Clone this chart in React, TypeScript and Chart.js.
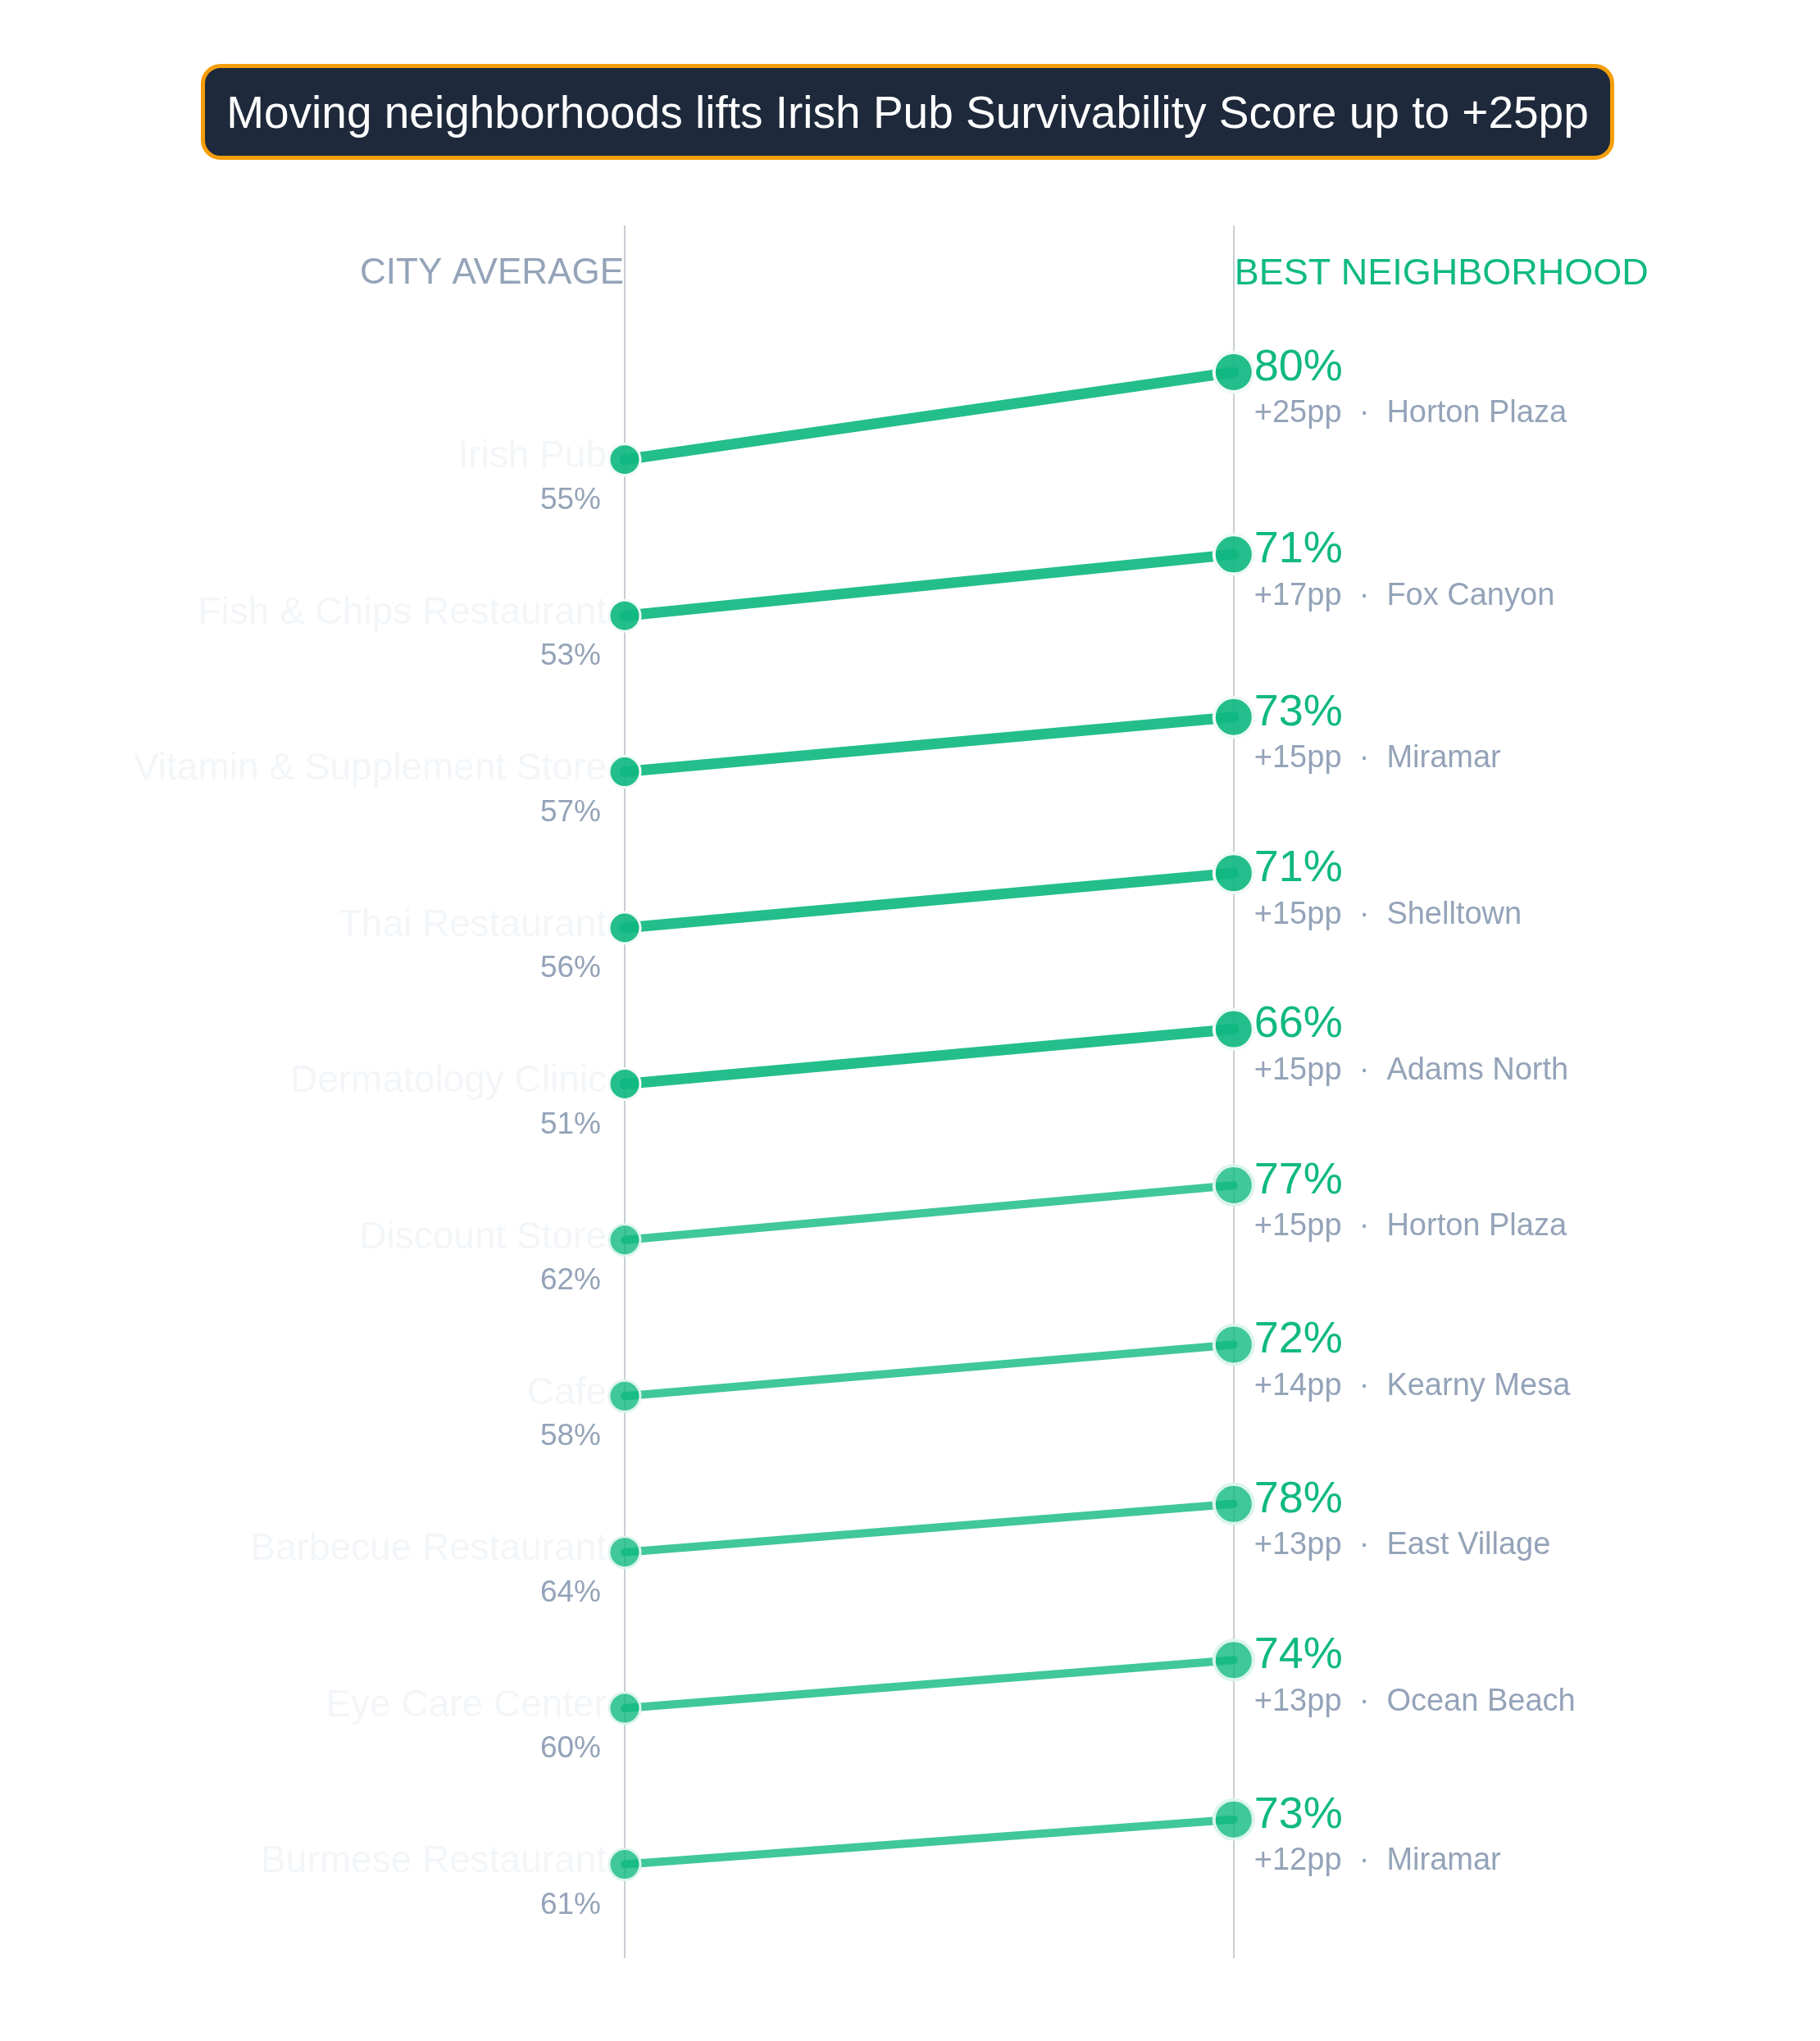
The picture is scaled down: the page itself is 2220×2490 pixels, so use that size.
import React, { useRef, useEffect } from 'react';
import { Chart, ChartConfiguration, Plugin, registerables } from 'chart.js';

Chart.register(...registerables);

const FONT = '"Liberation Sans", Arial, Helvetica, sans-serif';
const GREEN = '#10b981';
const GRAY = '#94a3b8';

const categories = [
  'Irish Pub',
  'Fish & Chips Restaurant',
  'Vitamin & Supplement Store',
  'Thai Restaurant',
  'Dermatology Clinic',
  'Discount Store',
  'Cafe',
  'Barbecue Restaurant',
  'Eye Care Center',
  'Burmese Restaurant',
];
const cityAverage = [55, 53, 57, 56, 51, 62, 58, 64, 60, 61];
const bestScore = [80, 71, 73, 71, 66, 77, 72, 78, 74, 73];
const liftPp = [25, 17, 15, 15, 15, 15, 14, 13, 13, 12];
const bestNeighborhood = [
  'Horton Plaza',
  'Fox Canyon',
  'Miramar',
  'Shelltown',
  'Adams North',
  'Horton Plaza',
  'Kearny Mesa',
  'East Village',
  'Ocean Beach',
  'Miramar',
];

const TITLE = 'Moving neighborhoods lifts Irish Pub Survivability Score up to +25pp';
const HIGHLIGHT = 5; // top rows drawn stronger

// layout in canvas px
const X_LEFT = 753;
const X_RIGHT = 1515;
const ROW_TOP = 545;
const ROW_GAP = 194.8;

// right end rises with the lift (in row units)
const riseFor = (lift: number) => (7 + 4 * lift) / 190.9;

const decor: Plugin<'line'> = {
  id: 'slopeDecor',
  beforeDatasetsDraw(chart) {
    const { ctx } = chart;
    const xs = chart.scales.x;
    const ys = chart.scales.y;
    ctx.save();
    ctx.strokeStyle = '#c9cdd4';
    ctx.lineWidth = 2;
    [0, 1].forEach((v) => {
      const x = Math.round(xs.getPixelForValue(v));
      ctx.beginPath();
      ctx.moveTo(x, ys.getPixelForValue(-1.5));
      ctx.lineTo(x, ys.getPixelForValue(9.6));
      ctx.stroke();
    });
    ctx.restore();
  },
  afterDatasetsDraw(chart) {
    const { ctx } = chart;
    const xs = chart.scales.x;
    const ys = chart.scales.y;
    const x0 = xs.getPixelForValue(0);
    const x1 = xs.getPixelForValue(1);
    ctx.save();
    ctx.textBaseline = 'middle';

    // column headers
    const hy = ys.getPixelForValue(-1.19);
    ctx.font = `44px ${FONT}`;
    ctx.fillStyle = GRAY;
    ctx.textAlign = 'right';
    ctx.fillText('CITY AVERAGE', x0 - 1, hy);
    ctx.font = `45px ${FONT}`;
    ctx.fillStyle = GREEN;
    ctx.textAlign = 'left';
    ctx.fillText('BEST NEIGHBORHOOD', x1 + 1, hy);

    categories.forEach((cat, i) => {
      const meta = chart.getDatasetMeta(i);
      const left = meta.data[0];
      const right = meta.data[1];

      ctx.textAlign = 'right';
      ctx.font = `46px ${FONT}`;
      ctx.fillStyle = '#f3f6f9';
      ctx.fillText(cat, x0 - 22, left.y - 3);

      ctx.font = `37px ${FONT}`;
      ctx.fillStyle = GRAY;
      ctx.fillText(`${cityAverage[i]}%`, x0 - 29, left.y + 50);

      ctx.textAlign = 'left';
      ctx.font = `54px ${FONT}`;
      ctx.fillStyle = GREEN;
      ctx.fillText(`${bestScore[i]}%`, x1 + 25, right.y - 5);

      ctx.font = `38px ${FONT}`;
      ctx.fillStyle = GRAY;
      ctx.fillText(`+${liftPp[i]}pp  \u00b7  ${bestNeighborhood[i]}`, x1 + 25, right.y + 51);
    });
    ctx.restore();
  },
};

const SlopeChart: React.FC = () => {
  const canvasRef = useRef<HTMLCanvasElement>(null);
  const chartRef = useRef<Chart | null>(null);

  useEffect(() => {
    if (!canvasRef.current) return;
    if (chartRef.current) chartRef.current.destroy();

    const ctx = canvasRef.current.getContext('2d');
    if (!ctx) return;

    const datasets = categories.map((cat, i) => {
      const strong = i < HIGHLIGHT;
      const fill = strong ? 'rgba(16,185,129,0.92)' : 'rgba(16,185,129,0.8)';
      return {
        label: cat,
        data: [
          { x: 0, y: i },
          { x: 1, y: i - riseFor(liftPp[i]) },
        ],
        borderColor: fill,
        borderWidth: strong ? 13 : 10,
        borderCapStyle: 'round' as const,
        tension: 0,
        pointRadius: [19, 24],
        pointHoverRadius: [19, 24],
        pointBorderWidth: [3, 4],
        pointBackgroundColor: fill,
        pointBorderColor: strong ? '#effaf5' : '#dcf5ec',
      };
    });

    const config: ChartConfiguration<'line'> = {
      type: 'line',
      data: { datasets },
      options: {
        responsive: true,
        maintainAspectRatio: false,
        animation: false,
        events: [],
        layout: { padding: 0 },
        plugins: {
          legend: { display: false },
          tooltip: { enabled: false },
        },
        scales: {
          x: {
            type: 'linear',
            display: false,
            bounds: 'data',
            min: -X_LEFT / (X_RIGHT - X_LEFT),
            max: (2220 - X_LEFT) / (X_RIGHT - X_LEFT),
          },
          y: {
            type: 'linear',
            display: false,
            bounds: 'data',
            reverse: true,
            min: -ROW_TOP / ROW_GAP,
            max: (2490 - ROW_TOP) / ROW_GAP,
          },
        },
      },
      plugins: [decor],
    };

    chartRef.current = new Chart(ctx, config);

    return () => {
      if (chartRef.current) {
        chartRef.current.destroy();
        chartRef.current = null;
      }
    };
  }, []);

  return (
    <div style={{ position: 'absolute', left: 0, top: 0, width: 2220, height: 2490, background: '#ffffff' }}>
      <canvas ref={canvasRef} />
      <div
        style={{
          position: 'absolute',
          left: 245,
          top: 78,
          width: 1724,
          height: 117,
          boxSizing: 'border-box',
          border: '5px solid #f59e0b',
          borderRadius: 24,
          background: '#1e293b',
          color: '#ffffff',
          fontFamily: FONT,
          fontSize: 55,
          display: 'flex',
          alignItems: 'center',
          justifyContent: 'center',
          whiteSpace: 'nowrap',
        }}
      >
        {TITLE}
      </div>
    </div>
  );
};

export default function App() {
  return <SlopeChart />;
}
